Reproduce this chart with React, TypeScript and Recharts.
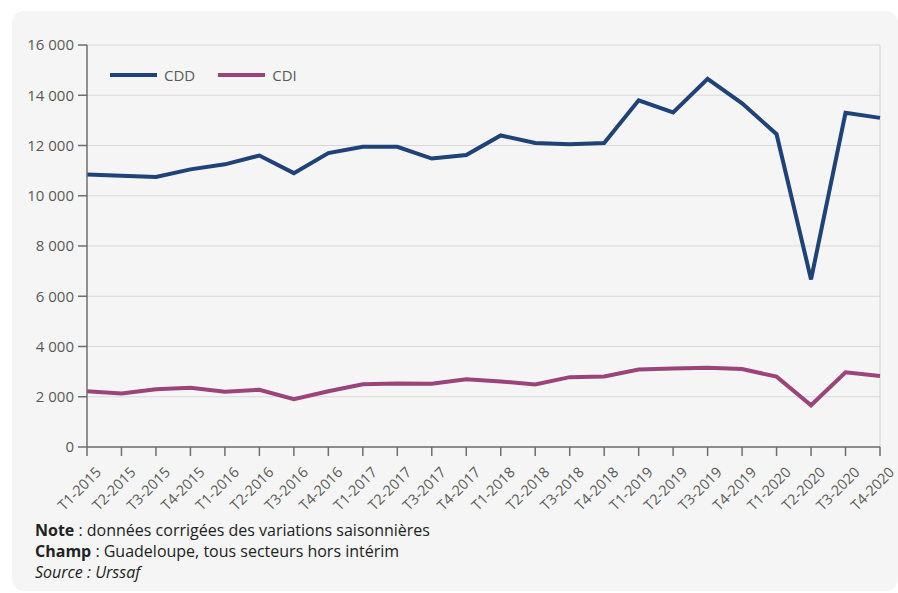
import { LineChart, Line, XAxis, YAxis, CartesianGrid, Legend, ReferenceLine } from "recharts";

const quarters = [
  "T1-2015", "T2-2015", "T3-2015", "T4-2015",
  "T1-2016", "T2-2016", "T3-2016", "T4-2016",
  "T1-2017", "T2-2017", "T3-2017", "T4-2017",
  "T1-2018", "T2-2018", "T3-2018", "T4-2018",
  "T1-2019", "T2-2019", "T3-2019", "T4-2019",
  "T1-2020", "T2-2020", "T3-2020", "T4-2020",
];

const cdd = [
  10850, 10800, 10750, 11050,
  11250, 11600, 10900, 11700,
  11950, 11950, 11480, 11620,
  12400, 12100, 12050, 12100,
  13800, 13320, 14650, 13680,
  12450, 6670, 13300, 13100,
];

const cdi = [
  2220, 2130, 2300, 2360,
  2200, 2280, 1900, 2220,
  2500, 2530, 2520, 2700,
  2610, 2490, 2780, 2810,
  3080, 3120, 3150, 3100,
  2800, 1660, 2970, 2830,
];

const yTicks = [0, 2000, 4000, 6000, 8000, 10000, 12000, 14000, 16000];

const series = [
  { key: "CDD", color: "#1f4279" },
  { key: "CDI", color: "#9b4479" },
];

const data = quarters.map((q, i) => ({ q, CDD: cdd[i], CDI: cdi[i] }));

const font = "'Open Sans', sans-serif";

const fmt = (v: number) => String(v).replace(/\B(?=(\d{3})+(?!\d))/g, " ");

const XTick = (props: any) => {
  const { x, y, payload } = props;
  return (
    <g transform={`translate(${x + 8},${y + 8})`}>
      <text
        x={0}
        y={0}
        dy="0.7em"
        textAnchor="end"
        transform="rotate(-45)"
        fill="#595959"
        fontSize={14.5}
        fontFamily={font}
      >
        {payload.value}
      </text>
    </g>
  );
};

// zero-height wrapper so the legend does not push the plot down
const LegendBox = () => (
  <div
    style={{
      display: "flex",
      alignItems: "center",
      height: 22,
      fontFamily: font,
      fontSize: 15,
      color: "#595959",
    }}
  >
    {series.map((s, i) => (
      <div key={s.key} style={{ display: "flex", alignItems: "center", marginLeft: i ? 23 : 0 }}>
        <span style={{ width: 47, height: 4, background: s.color, display: "inline-block" }} />
        <span style={{ marginLeft: 7 }}>{s.key}</span>
      </div>
    ))}
  </div>
);

export default function App() {
  return (
    <div
      style={{
        position: "absolute",
        left: 12,
        top: 11,
        width: 886,
        height: 580,
        background: "#f5f5f5",
        borderRadius: 12,
      }}
    >
      <LineChart width={886} height={520} data={data} margin={{ top: 34, right: 18, left: 0, bottom: 0 }}>
        <CartesianGrid vertical={false} stroke="#d9d9d9" />
        <ReferenceLine x="T4-2020" stroke="#d0d0d0" />
        <XAxis
          dataKey="q"
          interval={0}
          height={84}
          tick={<XTick />}
          tickSize={9}
          stroke="#6e6e6e"
          axisLine={{ stroke: "#6e6e6e", strokeWidth: 1.5 }}
          tickLine={{ stroke: "#6e6e6e", strokeWidth: 1.5 }}
        />
        <YAxis
          width={75}
          domain={[0, 16000]}
          ticks={yTicks}
          tickFormatter={fmt}
          tickSize={9}
          tickMargin={4}
          tick={{ fill: "#595959", fontSize: 15, fontFamily: font }}
          axisLine={{ stroke: "#6e6e6e", strokeWidth: 1.5 }}
          tickLine={{ stroke: "#6e6e6e", strokeWidth: 1.5 }}
        />
        <Legend
          verticalAlign="top"
          align="left"
          content={<LegendBox />}
          wrapperStyle={{ left: 98, top: 53, width: 300, height: 0, overflow: "visible" }}
        />
        {series.map((s) => (
          <Line
            key={s.key}
            dataKey={s.key}
            stroke={s.color}
            strokeWidth={4}
            dot={false}
            activeDot={false}
            isAnimationActive={false}
          />
        ))}
      </LineChart>
      <div
        style={{
          position: "absolute",
          left: 23,
          top: 509,
          fontFamily: font,
          fontSize: 16,
          lineHeight: "21px",
          color: "#222",
        }}
      >
        <div>
          <b>Note</b> : données corrigées des variations saisonnières
        </div>
        <div>
          <b>Champ</b> : Guadeloupe, tous secteurs hors intérim
        </div>
        <div>
          <i>Source : Urssaf</i>
        </div>
      </div>
    </div>
  );
}
